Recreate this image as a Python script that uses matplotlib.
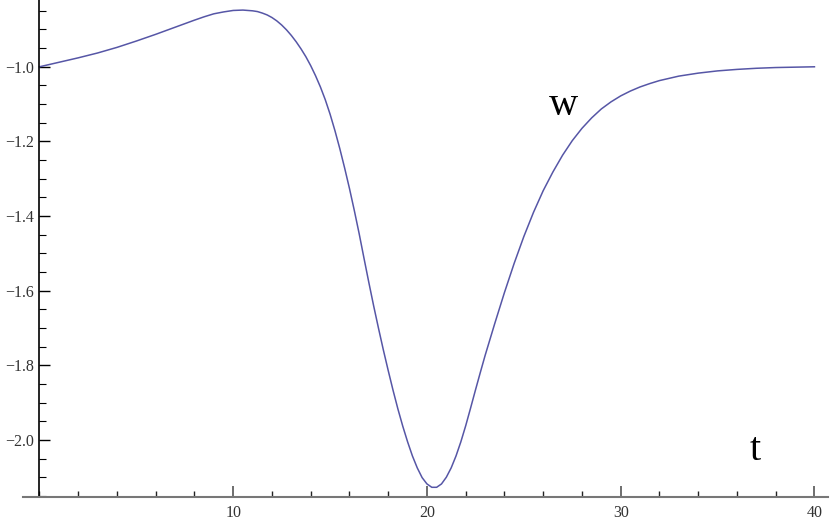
import matplotlib

matplotlib.use("Agg")
import matplotlib.pyplot as plt
from matplotlib.ticker import MultipleLocator, FixedLocator

# ── Data ──────────────────────────────────────────────────
t_vals = [0, 1, 2, 3, 4, 5, 6, 7, 8, 8.5, 9, 9.5, 10, 10.5, 11, 11.25, 11.5,
          11.75, 12, 12.25, 12.5, 12.75, 13, 13.25, 13.5, 13.75, 14, 14.25,
          14.5, 14.75, 15, 15.25, 15.5, 15.75, 16, 16.25, 16.5, 16.75, 17,
          17.25, 17.5, 17.75, 18, 18.25, 18.5, 18.75, 19, 19.25, 19.5, 19.75,
          20, 20.25, 20.5, 20.75, 21, 21.25, 21.5, 21.75, 22, 22.25, 22.5,
          22.75, 23, 23.5, 24, 24.5, 25, 25.5, 26, 26.5, 27, 27.5, 28, 28.5,
          29, 29.5, 30, 30.5, 31, 31.5, 32, 33, 34, 35, 36, 37, 38, 39, 40]
w_vals = [-1.000, -0.988, -0.976, -0.963, -0.948, -0.931, -0.913, -0.894,
          -0.875, -0.866, -0.858, -0.853, -0.849, -0.848, -0.850, -0.852,
          -0.856, -0.861, -0.868, -0.877, -0.888, -0.901, -0.916, -0.933,
          -0.952, -0.973, -0.997, -1.024, -1.054, -1.088, -1.127, -1.171,
          -1.219, -1.271, -1.326, -1.385, -1.447, -1.513, -1.578, -1.641,
          -1.701, -1.759, -1.814, -1.867, -1.917, -1.963, -2.005, -2.043,
          -2.075, -2.101, -2.118, -2.127, -2.127, -2.118, -2.100, -2.075,
          -2.043, -2.005, -1.962, -1.915, -1.867, -1.820, -1.774, -1.688,
          -1.605, -1.527, -1.455, -1.390, -1.332, -1.282, -1.237, -1.198,
          -1.165, -1.137, -1.113, -1.094, -1.078, -1.065, -1.054, -1.045,
          -1.037, -1.025, -1.017, -1.011, -1.007, -1.004, -1.002, -1.001,
          -1.000]

y_major = [-1.0, -1.2, -1.4, -1.6, -1.8, -2.0]
x_major = [10, 20, 30, 40]

fig = plt.figure(figsize=(8.3, 5.23), dpi=100)
ax = fig.add_axes([23 / 830, 26 / 523, 805 / 830, 497 / 523])

ax.plot(t_vals, w_vals, color="#5656a6", linewidth=1.1)

ax.set_xlim(-0.85, 40.7)
ax.set_ylim(-2.153, -0.821)

# Mathematica-like axes: y axis through t=0, t axis along the bottom
ax.spines["left"].set_position(("data", 0))
ax.spines["left"].set_color("black")
ax.spines["left"].set_linewidth(1.2)
ax.spines["bottom"].set_color("#777777")
ax.spines["bottom"].set_linewidth(1.5)
ax.spines["top"].set_visible(False)
ax.spines["right"].set_visible(False)

ax.yaxis.set_major_locator(FixedLocator(y_major))
ax.yaxis.set_minor_locator(MultipleLocator(0.05))
ax.set_yticklabels([f"\u2212{abs(v):.1f}" for v in y_major])
ax.xaxis.set_major_locator(FixedLocator(x_major))
ax.xaxis.set_minor_locator(MultipleLocator(2))
ax.set_xticklabels([str(v) for v in x_major])

ax.tick_params(axis="y", which="major", direction="in", length=8, width=1,
               color="black", pad=4, labelsize=11.5, labelcolor="#333333")
ax.tick_params(axis="y", which="minor", direction="in", length=5, width=0.8,
               color="black")
ax.tick_params(axis="x", which="major", direction="in", length=8, width=1.2,
               color="#555555", pad=6, labelsize=11.5, labelcolor="#333333")
ax.tick_params(axis="x", which="minor", direction="in", length=4, width=1,
               color="#222222")
for lbl in ax.get_xticklabels() + ax.get_yticklabels():
    lbl.set_family("Liberation Serif")

ax.text(27.05, -1.129, "w", fontsize=29, family="Liberation Serif",
        ha="center", va="baseline", color="black")
ax.text(36.94, -2.054, "t", fontsize=29, family="Liberation Serif",
        ha="center", va="baseline", color="black")

fig.savefig("out.png", dpi=100)
